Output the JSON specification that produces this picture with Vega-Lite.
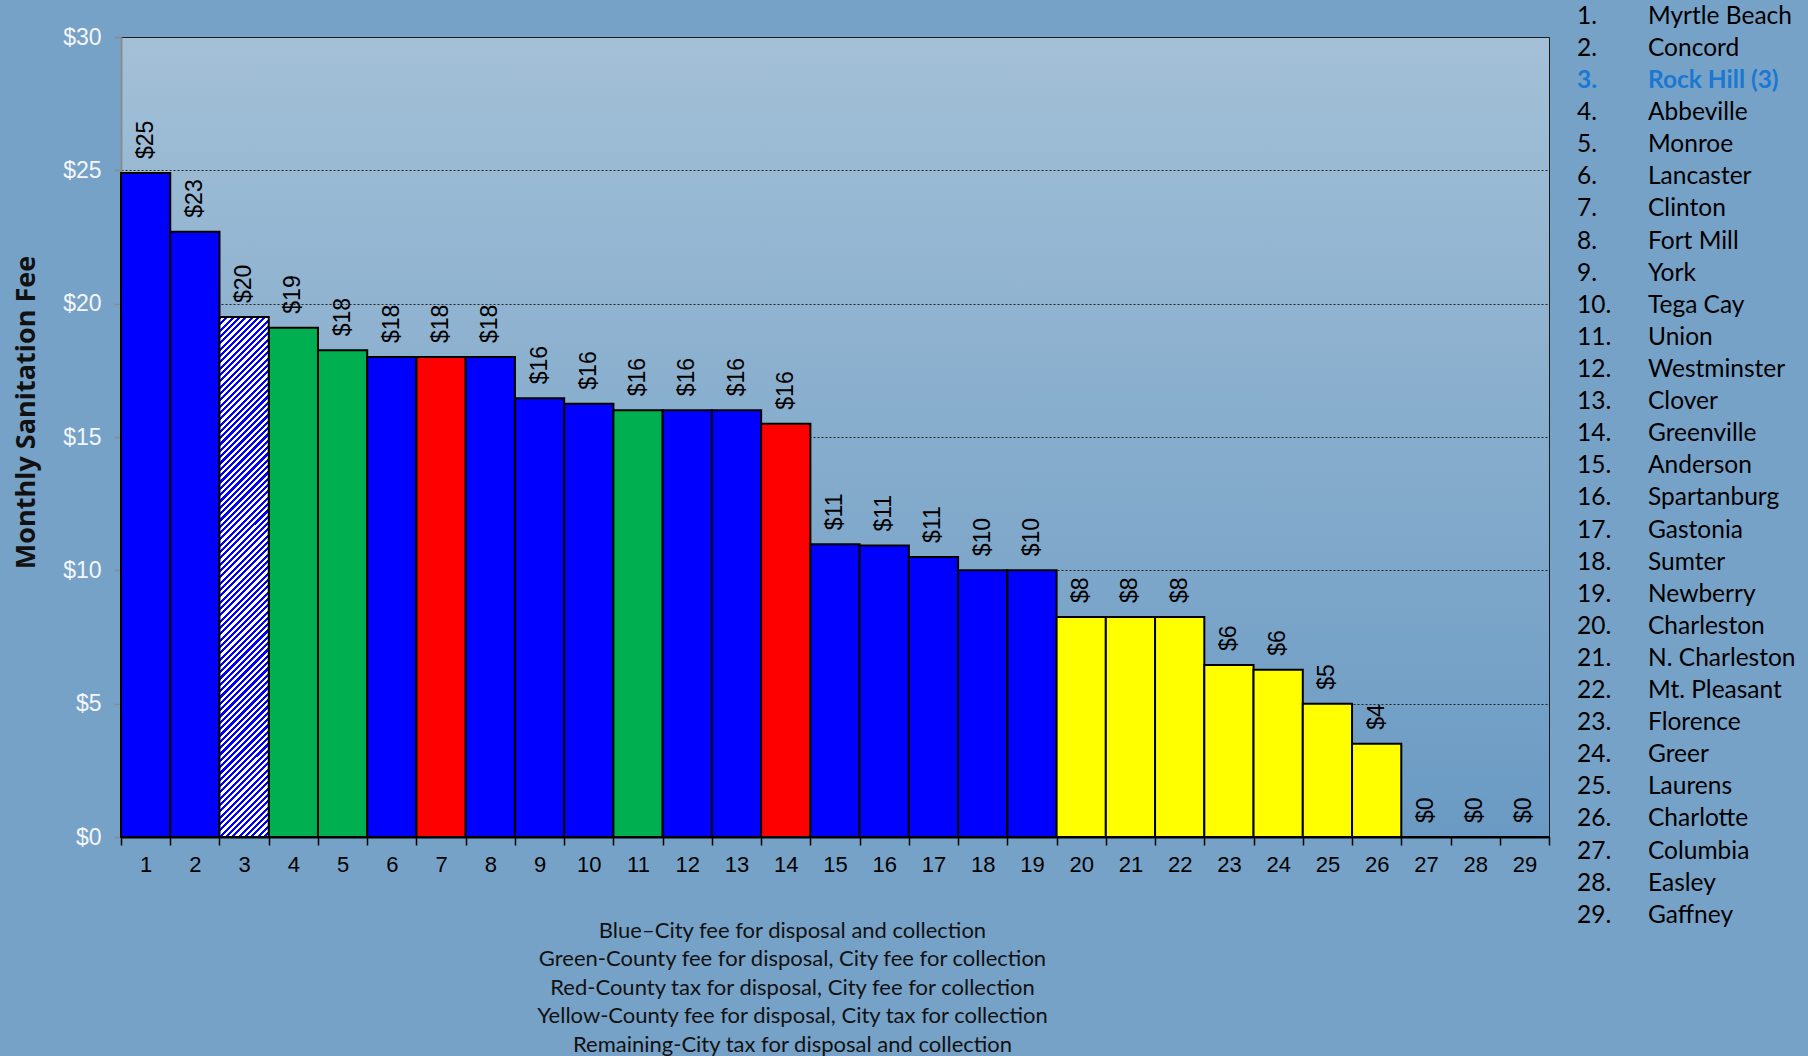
{
  "$schema": "https://vega.github.io/schema/vega-lite/v6.json",
  "background": "#76a2c8",
  "padding": {"left": 12, "top": 3, "right": 0, "bottom": 20},
  "spacing": 26,
  "config": {"font": "Liberation Sans"},
  "datasets": {
    "fees": [
      {"rank": 1, "city": "Myrtle Beach", "fee": 24.9, "type": "Blue"},
      {"rank": 2, "city": "Concord", "fee": 22.7, "type": "Blue"},
      {"rank": 3, "city": "Rock Hill (3)", "fee": 19.5, "type": "Hatched"},
      {"rank": 4, "city": "Abbeville", "fee": 19.1, "type": "Green"},
      {"rank": 5, "city": "Monroe", "fee": 18.25, "type": "Green"},
      {"rank": 6, "city": "Lancaster", "fee": 18, "type": "Blue"},
      {"rank": 7, "city": "Clinton", "fee": 18, "type": "Red"},
      {"rank": 8, "city": "Fort Mill", "fee": 18, "type": "Blue"},
      {"rank": 9, "city": "York", "fee": 16.45, "type": "Blue"},
      {"rank": 10, "city": "Tega Cay", "fee": 16.25, "type": "Blue"},
      {"rank": 11, "city": "Union", "fee": 16, "type": "Green"},
      {"rank": 12, "city": "Westminster", "fee": 16, "type": "Blue"},
      {"rank": 13, "city": "Clover", "fee": 16, "type": "Blue"},
      {"rank": 14, "city": "Greenville", "fee": 15.5, "type": "Red"},
      {"rank": 15, "city": "Anderson", "fee": 10.98, "type": "Blue"},
      {"rank": 16, "city": "Spartanburg", "fee": 10.93, "type": "Blue"},
      {"rank": 17, "city": "Gastonia", "fee": 10.5, "type": "Blue"},
      {"rank": 18, "city": "Sumter", "fee": 10, "type": "Blue"},
      {"rank": 19, "city": "Newberry", "fee": 10, "type": "Blue"},
      {"rank": 20, "city": "Charleston", "fee": 8.25, "type": "Yellow"},
      {"rank": 21, "city": "N. Charleston", "fee": 8.25, "type": "Yellow"},
      {"rank": 22, "city": "Mt. Pleasant", "fee": 8.25, "type": "Yellow"},
      {"rank": 23, "city": "Florence", "fee": 6.45, "type": "Yellow"},
      {"rank": 24, "city": "Greer", "fee": 6.27, "type": "Yellow"},
      {"rank": 25, "city": "Laurens", "fee": 5, "type": "Yellow"},
      {"rank": 26, "city": "Charlotte", "fee": 3.5, "type": "Yellow"},
      {"rank": 27, "city": "Columbia", "fee": 0, "type": "None"},
      {"rank": 28, "city": "Easley", "fee": 0, "type": "None"},
      {"rank": 29, "city": "Gaffney", "fee": 0, "type": "None"}
    ]
  },
  "hconcat": [
    {
      "width": 1428,
      "height": 800,
      "data": {"name": "fees"},
      "view": {
        "stroke": "#1a1a1a",
        "strokeWidth": 1,
        "fill": {"gradient": "linear", "x1": 0, "y1": 0, "x2": 0, "y2": 1, "stops": [{"offset": 0, "color": "#a3c0d7"}, {"offset": 1, "color": "#6a9ac3"}]}
      },
      "encoding": {
        "x": {
          "field": "rank",
          "type": "ordinal",
          "scale": {"paddingInner": 0, "paddingOuter": 0},
          "axis": {
            "title": ["Blue–City fee for disposal and collection", "Green-County fee for disposal, City fee for collection", "Red-County tax for disposal, City fee for collection", "Yellow-County fee for disposal, City tax for collection", "Remaining-City tax for disposal and collection"],
            "titleFont": "Lato",
            "titleFontSize": 22,
            "titleFontWeight": "normal",
            "titleColor": "#111111",
            "titleLineHeight": 28.6,
            "titlePadding": 45,
            "titleX": 671,
            "titleAlign": "center",
            "labelAngle": 0,
            "labelFont": "Liberation Sans",
            "labelFontSize": 22,
            "labelColor": "#000000",
            "labelPadding": 9,
            "tickBand": "extent",
            "tickColor": "#000000",
            "tickSize": 8,
            "tickWidth": 1.5,
            "domainColor": "#000000",
            "domainWidth": 2,
            "grid": false
          }
        },
        "y": {
          "field": "fee",
          "type": "quantitative",
          "scale": {"domain": [0, 30], "nice": false},
          "axis": {
            "values": [0, 5, 10, 15, 20, 25, 30],
            "format": "$.0f",
            "title": "Monthly Sanitation Fee",
            "titleFont": "Open Sans",
            "titleFontSize": 27,
            "titleFontWeight": "bold",
            "titleColor": "#111111",
            "titlePadding": 22,
            "titleY": 375,
            "labelFont": "Liberation Sans",
            "labelFontSize": 23,
            "labelColor": "#f4f6f8",
            "labelPadding": 13,
            "tickColor": "#8c8c8c",
            "tickSize": 7,
            "tickWidth": 1.5,
            "domainColor": "#8c8c8c",
            "domainWidth": 2,
            "grid": true,
            "gridColor": "#222222",
            "gridDash": [2, 2],
            "gridWidth": 1
          }
        }
      },
      "layer": [
        {
          "transform": [{"filter": "datum.type !== 'Hatched'"}],
          "mark": {"type": "bar", "stroke": "#000000", "strokeWidth": 2},
          "encoding": {
            "color": {
              "field": "type",
              "type": "nominal",
              "scale": {"domain": ["Blue", "Green", "Red", "Yellow", "None"], "range": ["#0000ff", "#00b050", "#ff0000", "#ffff00", "#0000ff"]},
              "legend": null
            }
          }
        },
        {
          "transform": [{"filter": "datum.type === 'Hatched'"}],
          "mark": {
            "type": "bar",
            "stroke": "#000000",
            "strokeWidth": 2,
            "fill": {
              "gradient": "linear", "x1": 0, "y1": 0, "x2": 0.1027, "y2": 1.0849,
              "stops": [
                {"offset":0,"color":"#00f"},
                {"offset":0.0056,"color":"#00f"},{"offset":0.0056,"color":"#fff"},{"offset":0.0111,"color":"#fff"},{"offset":0.0111,"color":"#00f"},
                {"offset":0.0167,"color":"#00f"},{"offset":0.0167,"color":"#fff"},{"offset":0.0222,"color":"#fff"},{"offset":0.0222,"color":"#00f"},
                {"offset":0.0278,"color":"#00f"},{"offset":0.0278,"color":"#fff"},{"offset":0.0333,"color":"#fff"},{"offset":0.0333,"color":"#00f"},
                {"offset":0.0389,"color":"#00f"},{"offset":0.0389,"color":"#fff"},{"offset":0.0444,"color":"#fff"},{"offset":0.0444,"color":"#00f"},
                {"offset":0.05,"color":"#00f"},{"offset":0.05,"color":"#fff"},{"offset":0.0556,"color":"#fff"},{"offset":0.0556,"color":"#00f"},
                {"offset":0.0611,"color":"#00f"},{"offset":0.0611,"color":"#fff"},{"offset":0.0667,"color":"#fff"},{"offset":0.0667,"color":"#00f"},
                {"offset":0.0722,"color":"#00f"},{"offset":0.0722,"color":"#fff"},{"offset":0.0778,"color":"#fff"},{"offset":0.0778,"color":"#00f"},
                {"offset":0.0833,"color":"#00f"},{"offset":0.0833,"color":"#fff"},{"offset":0.0889,"color":"#fff"},{"offset":0.0889,"color":"#00f"},
                {"offset":0.0944,"color":"#00f"},{"offset":0.0944,"color":"#fff"},
                {"offset":0.1,"color":"#fff"},{"offset":0.1,"color":"#00f"},
                {"offset":0.1056,"color":"#00f"},{"offset":0.1056,"color":"#fff"},{"offset":0.1111,"color":"#fff"},{"offset":0.1111,"color":"#00f"},
                {"offset":0.1167,"color":"#00f"},{"offset":0.1167,"color":"#fff"},{"offset":0.1222,"color":"#fff"},{"offset":0.1222,"color":"#00f"},
                {"offset":0.1278,"color":"#00f"},{"offset":0.1278,"color":"#fff"},{"offset":0.1333,"color":"#fff"},{"offset":0.1333,"color":"#00f"},
                {"offset":0.1389,"color":"#00f"},{"offset":0.1389,"color":"#fff"},{"offset":0.1444,"color":"#fff"},{"offset":0.1444,"color":"#00f"},
                {"offset":0.15,"color":"#00f"},{"offset":0.15,"color":"#fff"},{"offset":0.1556,"color":"#fff"},{"offset":0.1556,"color":"#00f"},
                {"offset":0.1611,"color":"#00f"},{"offset":0.1611,"color":"#fff"},{"offset":0.1667,"color":"#fff"},{"offset":0.1667,"color":"#00f"},
                {"offset":0.1722,"color":"#00f"},{"offset":0.1722,"color":"#fff"},{"offset":0.1778,"color":"#fff"},{"offset":0.1778,"color":"#00f"},
                {"offset":0.1833,"color":"#00f"},{"offset":0.1833,"color":"#fff"},{"offset":0.1889,"color":"#fff"},{"offset":0.1889,"color":"#00f"},
                {"offset":0.1944,"color":"#00f"},{"offset":0.1944,"color":"#fff"},
                {"offset":0.2,"color":"#fff"},{"offset":0.2,"color":"#00f"},
                {"offset":0.2056,"color":"#00f"},{"offset":0.2056,"color":"#fff"},{"offset":0.2111,"color":"#fff"},{"offset":0.2111,"color":"#00f"},
                {"offset":0.2167,"color":"#00f"},{"offset":0.2167,"color":"#fff"},{"offset":0.2222,"color":"#fff"},{"offset":0.2222,"color":"#00f"},
                {"offset":0.2278,"color":"#00f"},{"offset":0.2278,"color":"#fff"},{"offset":0.2333,"color":"#fff"},{"offset":0.2333,"color":"#00f"},
                {"offset":0.2389,"color":"#00f"},{"offset":0.2389,"color":"#fff"},{"offset":0.2444,"color":"#fff"},{"offset":0.2444,"color":"#00f"},
                {"offset":0.25,"color":"#00f"},{"offset":0.25,"color":"#fff"},{"offset":0.2556,"color":"#fff"},{"offset":0.2556,"color":"#00f"},
                {"offset":0.2611,"color":"#00f"},{"offset":0.2611,"color":"#fff"},{"offset":0.2667,"color":"#fff"},{"offset":0.2667,"color":"#00f"},
                {"offset":0.2722,"color":"#00f"},{"offset":0.2722,"color":"#fff"},{"offset":0.2778,"color":"#fff"},{"offset":0.2778,"color":"#00f"},
                {"offset":0.2833,"color":"#00f"},{"offset":0.2833,"color":"#fff"},{"offset":0.2889,"color":"#fff"},{"offset":0.2889,"color":"#00f"},
                {"offset":0.2944,"color":"#00f"},{"offset":0.2944,"color":"#fff"},
                {"offset":0.3,"color":"#fff"},{"offset":0.3,"color":"#00f"},
                {"offset":0.3056,"color":"#00f"},{"offset":0.3056,"color":"#fff"},{"offset":0.3111,"color":"#fff"},{"offset":0.3111,"color":"#00f"},
                {"offset":0.3167,"color":"#00f"},{"offset":0.3167,"color":"#fff"},{"offset":0.3222,"color":"#fff"},{"offset":0.3222,"color":"#00f"},
                {"offset":0.3278,"color":"#00f"},{"offset":0.3278,"color":"#fff"},{"offset":0.3333,"color":"#fff"},{"offset":0.3333,"color":"#00f"},
                {"offset":0.3389,"color":"#00f"},{"offset":0.3389,"color":"#fff"},{"offset":0.3444,"color":"#fff"},{"offset":0.3444,"color":"#00f"},
                {"offset":0.35,"color":"#00f"},{"offset":0.35,"color":"#fff"},{"offset":0.3556,"color":"#fff"},{"offset":0.3556,"color":"#00f"},
                {"offset":0.3611,"color":"#00f"},{"offset":0.3611,"color":"#fff"},{"offset":0.3667,"color":"#fff"},{"offset":0.3667,"color":"#00f"},
                {"offset":0.3722,"color":"#00f"},{"offset":0.3722,"color":"#fff"},{"offset":0.3778,"color":"#fff"},{"offset":0.3778,"color":"#00f"},
                {"offset":0.3833,"color":"#00f"},{"offset":0.3833,"color":"#fff"},{"offset":0.3889,"color":"#fff"},{"offset":0.3889,"color":"#00f"},
                {"offset":0.3944,"color":"#00f"},{"offset":0.3944,"color":"#fff"},
                {"offset":0.4,"color":"#fff"},{"offset":0.4,"color":"#00f"},
                {"offset":0.4056,"color":"#00f"},{"offset":0.4056,"color":"#fff"},{"offset":0.4111,"color":"#fff"},{"offset":0.4111,"color":"#00f"},
                {"offset":0.4167,"color":"#00f"},{"offset":0.4167,"color":"#fff"},{"offset":0.4222,"color":"#fff"},{"offset":0.4222,"color":"#00f"},
                {"offset":0.4278,"color":"#00f"},{"offset":0.4278,"color":"#fff"},{"offset":0.4333,"color":"#fff"},{"offset":0.4333,"color":"#00f"},
                {"offset":0.4389,"color":"#00f"},{"offset":0.4389,"color":"#fff"},{"offset":0.4444,"color":"#fff"},{"offset":0.4444,"color":"#00f"},
                {"offset":0.45,"color":"#00f"},{"offset":0.45,"color":"#fff"},{"offset":0.4556,"color":"#fff"},{"offset":0.4556,"color":"#00f"},
                {"offset":0.4611,"color":"#00f"},{"offset":0.4611,"color":"#fff"},{"offset":0.4667,"color":"#fff"},{"offset":0.4667,"color":"#00f"},
                {"offset":0.4722,"color":"#00f"},{"offset":0.4722,"color":"#fff"},{"offset":0.4778,"color":"#fff"},{"offset":0.4778,"color":"#00f"},
                {"offset":0.4833,"color":"#00f"},{"offset":0.4833,"color":"#fff"},{"offset":0.4889,"color":"#fff"},{"offset":0.4889,"color":"#00f"},
                {"offset":0.4944,"color":"#00f"},{"offset":0.4944,"color":"#fff"},
                {"offset":0.5,"color":"#fff"},{"offset":0.5,"color":"#00f"},
                {"offset":0.5056,"color":"#00f"},{"offset":0.5056,"color":"#fff"},{"offset":0.5111,"color":"#fff"},{"offset":0.5111,"color":"#00f"},
                {"offset":0.5167,"color":"#00f"},{"offset":0.5167,"color":"#fff"},{"offset":0.5222,"color":"#fff"},{"offset":0.5222,"color":"#00f"},
                {"offset":0.5278,"color":"#00f"},{"offset":0.5278,"color":"#fff"},{"offset":0.5333,"color":"#fff"},{"offset":0.5333,"color":"#00f"},
                {"offset":0.5389,"color":"#00f"},{"offset":0.5389,"color":"#fff"},{"offset":0.5444,"color":"#fff"},{"offset":0.5444,"color":"#00f"},
                {"offset":0.55,"color":"#00f"},{"offset":0.55,"color":"#fff"},{"offset":0.5556,"color":"#fff"},{"offset":0.5556,"color":"#00f"},
                {"offset":0.5611,"color":"#00f"},{"offset":0.5611,"color":"#fff"},{"offset":0.5667,"color":"#fff"},{"offset":0.5667,"color":"#00f"},
                {"offset":0.5722,"color":"#00f"},{"offset":0.5722,"color":"#fff"},{"offset":0.5778,"color":"#fff"},{"offset":0.5778,"color":"#00f"},
                {"offset":0.5833,"color":"#00f"},{"offset":0.5833,"color":"#fff"},{"offset":0.5889,"color":"#fff"},{"offset":0.5889,"color":"#00f"},
                {"offset":0.5944,"color":"#00f"},{"offset":0.5944,"color":"#fff"},
                {"offset":0.6,"color":"#fff"},{"offset":0.6,"color":"#00f"},
                {"offset":0.6056,"color":"#00f"},{"offset":0.6056,"color":"#fff"},{"offset":0.6111,"color":"#fff"},{"offset":0.6111,"color":"#00f"},
                {"offset":0.6167,"color":"#00f"},{"offset":0.6167,"color":"#fff"},{"offset":0.6222,"color":"#fff"},{"offset":0.6222,"color":"#00f"},
                {"offset":0.6278,"color":"#00f"},{"offset":0.6278,"color":"#fff"},{"offset":0.6333,"color":"#fff"},{"offset":0.6333,"color":"#00f"},
                {"offset":0.6389,"color":"#00f"},{"offset":0.6389,"color":"#fff"},{"offset":0.6444,"color":"#fff"},{"offset":0.6444,"color":"#00f"},
                {"offset":0.65,"color":"#00f"},{"offset":0.65,"color":"#fff"},{"offset":0.6556,"color":"#fff"},{"offset":0.6556,"color":"#00f"},
                {"offset":0.6611,"color":"#00f"},{"offset":0.6611,"color":"#fff"},{"offset":0.6667,"color":"#fff"},{"offset":0.6667,"color":"#00f"},
                {"offset":0.6722,"color":"#00f"},{"offset":0.6722,"color":"#fff"},{"offset":0.6778,"color":"#fff"},{"offset":0.6778,"color":"#00f"},
                {"offset":0.6833,"color":"#00f"},{"offset":0.6833,"color":"#fff"},{"offset":0.6889,"color":"#fff"},{"offset":0.6889,"color":"#00f"},
                {"offset":0.6944,"color":"#00f"},{"offset":0.6944,"color":"#fff"},
                {"offset":0.7,"color":"#fff"},{"offset":0.7,"color":"#00f"},
                {"offset":0.7056,"color":"#00f"},{"offset":0.7056,"color":"#fff"},{"offset":0.7111,"color":"#fff"},{"offset":0.7111,"color":"#00f"},
                {"offset":0.7167,"color":"#00f"},{"offset":0.7167,"color":"#fff"},{"offset":0.7222,"color":"#fff"},{"offset":0.7222,"color":"#00f"},
                {"offset":0.7278,"color":"#00f"},{"offset":0.7278,"color":"#fff"},{"offset":0.7333,"color":"#fff"},{"offset":0.7333,"color":"#00f"},
                {"offset":0.7389,"color":"#00f"},{"offset":0.7389,"color":"#fff"},{"offset":0.7444,"color":"#fff"},{"offset":0.7444,"color":"#00f"},
                {"offset":0.75,"color":"#00f"},{"offset":0.75,"color":"#fff"},{"offset":0.7556,"color":"#fff"},{"offset":0.7556,"color":"#00f"},
                {"offset":0.7611,"color":"#00f"},{"offset":0.7611,"color":"#fff"},{"offset":0.7667,"color":"#fff"},{"offset":0.7667,"color":"#00f"},
                {"offset":0.7722,"color":"#00f"},{"offset":0.7722,"color":"#fff"},{"offset":0.7778,"color":"#fff"},{"offset":0.7778,"color":"#00f"},
                {"offset":0.7833,"color":"#00f"},{"offset":0.7833,"color":"#fff"},{"offset":0.7889,"color":"#fff"},{"offset":0.7889,"color":"#00f"},
                {"offset":0.7944,"color":"#00f"},{"offset":0.7944,"color":"#fff"},
                {"offset":0.8,"color":"#fff"},{"offset":0.8,"color":"#00f"},
                {"offset":0.8056,"color":"#00f"},{"offset":0.8056,"color":"#fff"},{"offset":0.8111,"color":"#fff"},{"offset":0.8111,"color":"#00f"},
                {"offset":0.8167,"color":"#00f"},{"offset":0.8167,"color":"#fff"},{"offset":0.8222,"color":"#fff"},{"offset":0.8222,"color":"#00f"},
                {"offset":0.8278,"color":"#00f"},{"offset":0.8278,"color":"#fff"},{"offset":0.8333,"color":"#fff"},{"offset":0.8333,"color":"#00f"},
                {"offset":0.8389,"color":"#00f"},{"offset":0.8389,"color":"#fff"},{"offset":0.8444,"color":"#fff"},{"offset":0.8444,"color":"#00f"},
                {"offset":0.85,"color":"#00f"},{"offset":0.85,"color":"#fff"},{"offset":0.8556,"color":"#fff"},{"offset":0.8556,"color":"#00f"},
                {"offset":0.8611,"color":"#00f"},{"offset":0.8611,"color":"#fff"},{"offset":0.8667,"color":"#fff"},{"offset":0.8667,"color":"#00f"},
                {"offset":0.8722,"color":"#00f"},{"offset":0.8722,"color":"#fff"},{"offset":0.8778,"color":"#fff"},{"offset":0.8778,"color":"#00f"},
                {"offset":0.8833,"color":"#00f"},{"offset":0.8833,"color":"#fff"},{"offset":0.8889,"color":"#fff"},{"offset":0.8889,"color":"#00f"},
                {"offset":0.8944,"color":"#00f"},{"offset":0.8944,"color":"#fff"},
                {"offset":0.9,"color":"#fff"},{"offset":0.9,"color":"#00f"},
                {"offset":0.9056,"color":"#00f"},{"offset":0.9056,"color":"#fff"},{"offset":0.9111,"color":"#fff"},{"offset":0.9111,"color":"#00f"},
                {"offset":0.9167,"color":"#00f"},{"offset":0.9167,"color":"#fff"},{"offset":0.9222,"color":"#fff"},{"offset":0.9222,"color":"#00f"},
                {"offset":0.9278,"color":"#00f"},{"offset":0.9278,"color":"#fff"},{"offset":0.9333,"color":"#fff"},{"offset":0.9333,"color":"#00f"},
                {"offset":0.9389,"color":"#00f"},{"offset":0.9389,"color":"#fff"},{"offset":0.9444,"color":"#fff"},{"offset":0.9444,"color":"#00f"},
                {"offset":0.95,"color":"#00f"},{"offset":0.95,"color":"#fff"},{"offset":0.9556,"color":"#fff"},{"offset":0.9556,"color":"#00f"},
                {"offset":0.9611,"color":"#00f"},{"offset":0.9611,"color":"#fff"},{"offset":0.9667,"color":"#fff"},{"offset":0.9667,"color":"#00f"},
                {"offset":0.9722,"color":"#00f"},{"offset":0.9722,"color":"#fff"},{"offset":0.9778,"color":"#fff"},{"offset":0.9778,"color":"#00f"},
                {"offset":0.9833,"color":"#00f"},{"offset":0.9833,"color":"#fff"},{"offset":0.9889,"color":"#fff"},{"offset":0.9889,"color":"#00f"},
                {"offset":0.9944,"color":"#00f"},{"offset":0.9944,"color":"#fff"},
                {"offset":1,"color":"#fff"}
              ]
            }
          }
        },
        {
          "mark": {"type": "text", "angle": 270, "align": "left", "baseline": "middle", "dx": 14, "font": "Liberation Sans", "fontSize": 23, "color": "#000000"},
          "encoding": {"text": {"field": "fee", "type": "quantitative", "format": "$.0f"}}
        }
      ]
    },
    {
      "width": 233,
      "height": 931,
      "data": {"name": "fees"},
      "view": {"stroke": null},
      "encoding": {
        "y": {"field": "rank", "type": "ordinal", "scale": {"paddingInner": 0, "paddingOuter": 0}, "axis": null}
      },
      "layer": [
        {
          "transform": [{"filter": "datum.rank !== 3"}],
          "mark": {"type": "text", "align": "left", "baseline": "middle", "font": "Lato", "fontSize": 24.5, "color": "#000000", "dx": -116.5, "dy": -36.2, "text": {"expr": "datum.rank + '.'"}}
        },
        {
          "transform": [{"filter": "datum.rank !== 3"}],
          "mark": {"type": "text", "align": "left", "baseline": "middle", "font": "Lato", "fontSize": 24.5, "color": "#000000", "dx": -45.5, "dy": -36.2},
          "encoding": {"text": {"field": "city", "type": "nominal"}}
        },
        {
          "transform": [{"filter": "datum.rank === 3"}],
          "mark": {"type": "text", "align": "left", "baseline": "middle", "font": "Lato", "fontSize": 24.5, "fontWeight": "bold", "color": "#1a78d2", "dx": -116.5, "dy": -36.2, "text": {"expr": "datum.rank + '.'"}}
        },
        {
          "transform": [{"filter": "datum.rank === 3"}],
          "mark": {"type": "text", "align": "left", "baseline": "middle", "font": "Lato", "fontSize": 24.5, "fontWeight": "bold", "color": "#1a78d2", "dx": -45.5, "dy": -36.2},
          "encoding": {"text": {"field": "city", "type": "nominal"}}
        }
      ]
    }
  ]
}
